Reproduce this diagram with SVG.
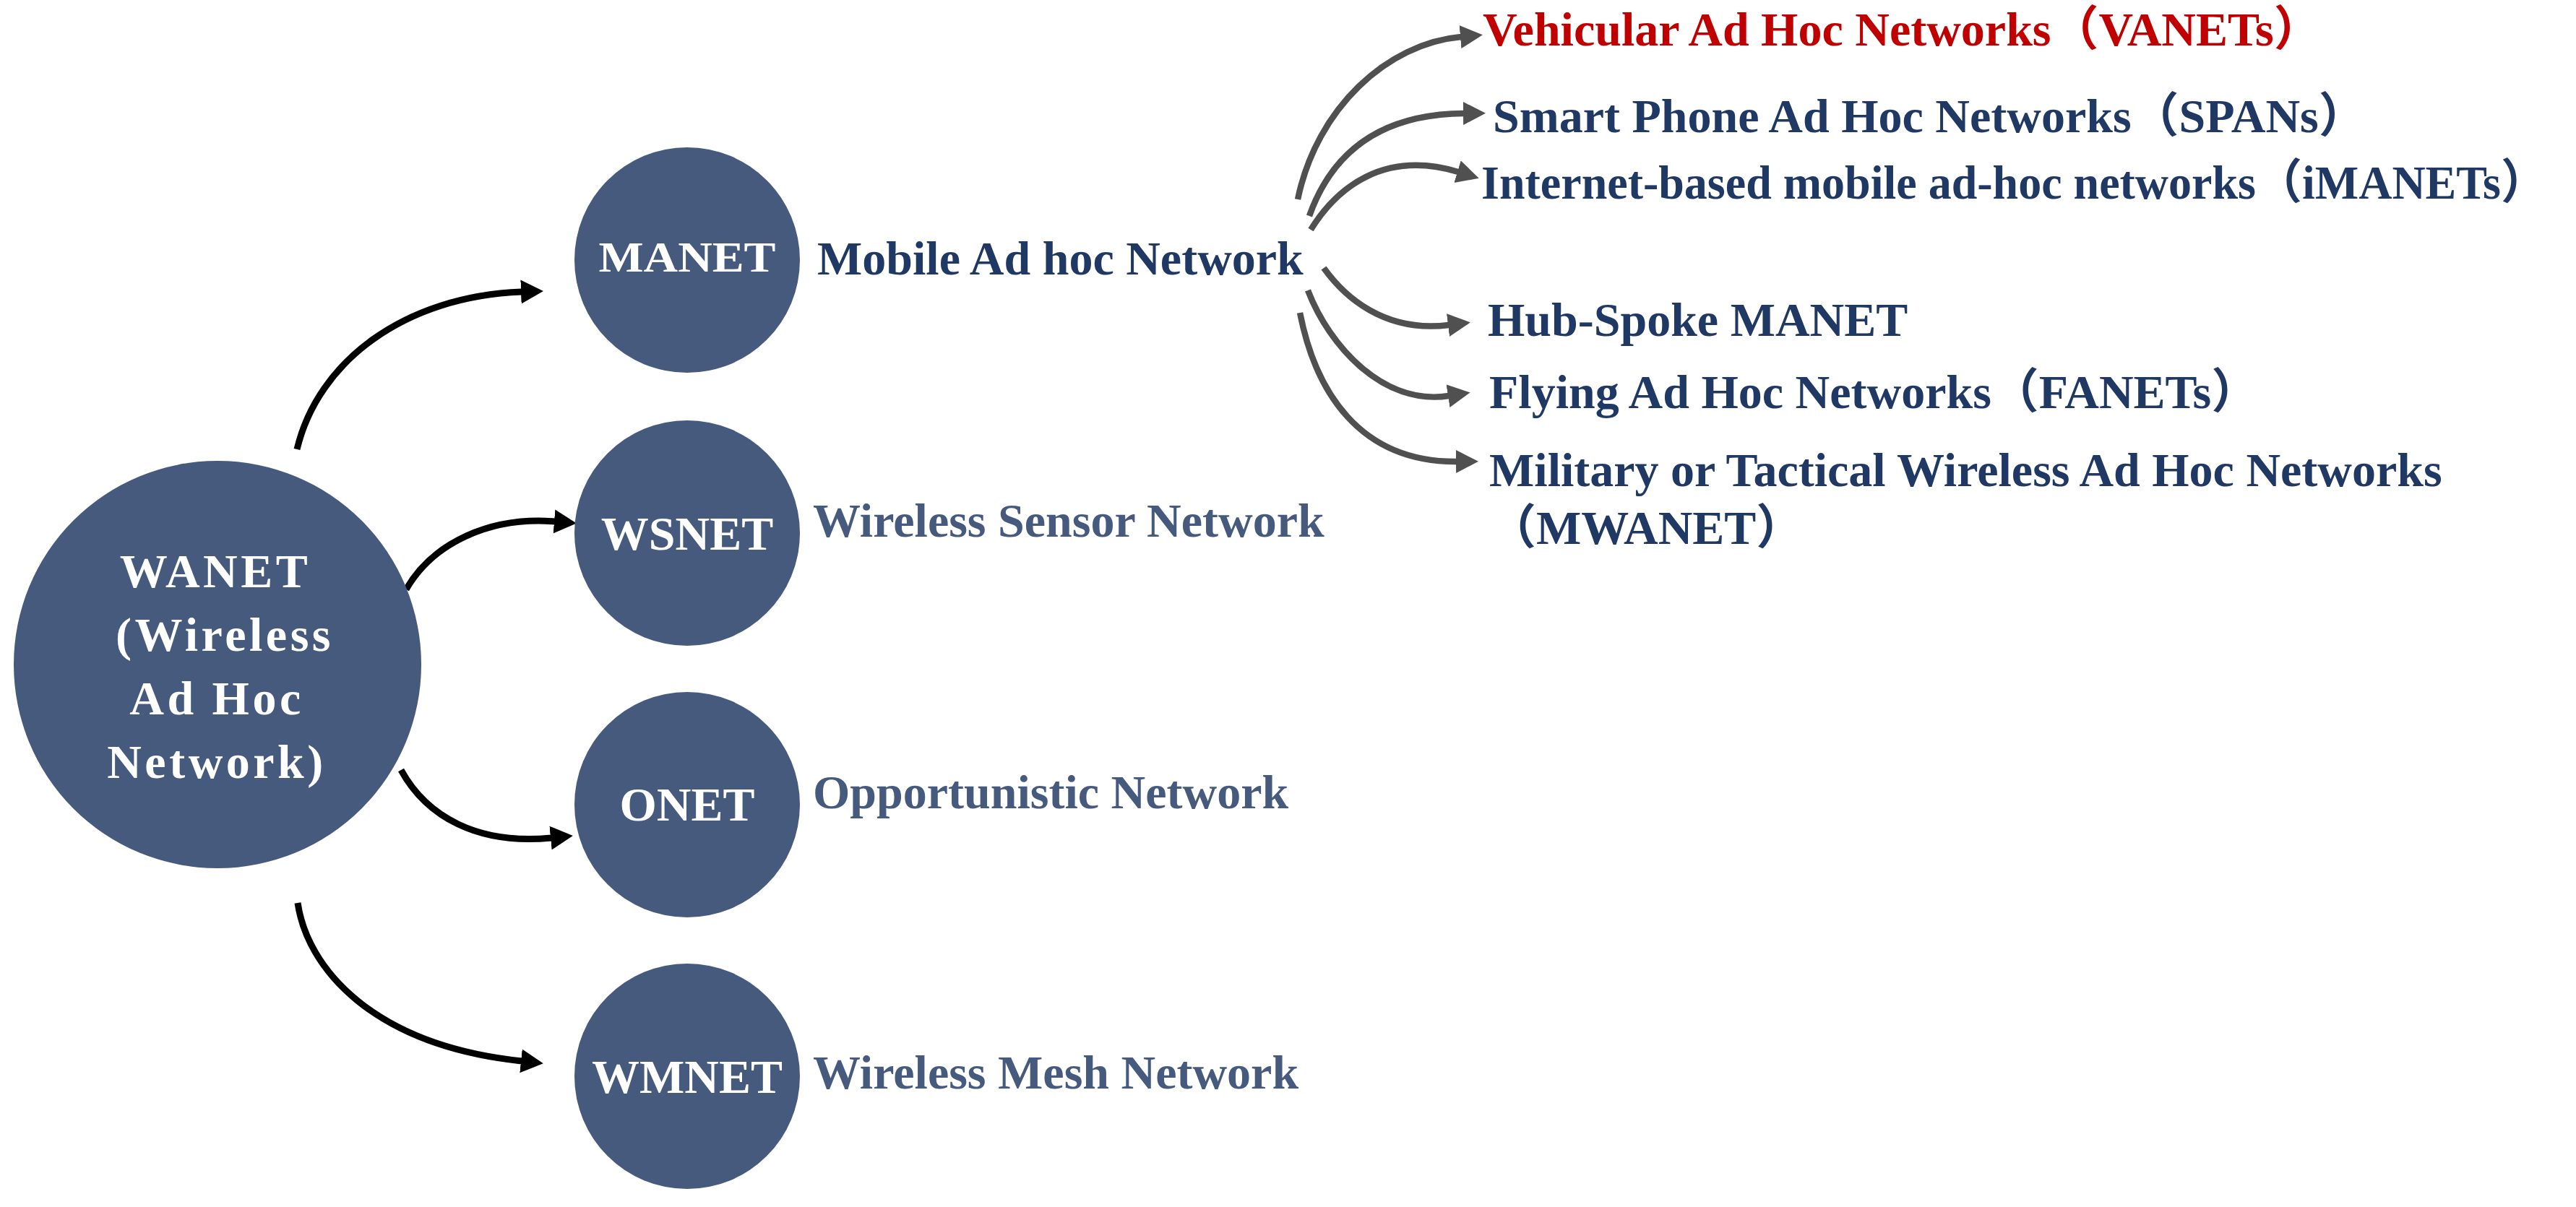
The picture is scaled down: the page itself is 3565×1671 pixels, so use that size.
<svg xmlns="http://www.w3.org/2000/svg" width="3565" height="1671" viewBox="0 0 3565 1671">
<style>
  text { font-family: "Liberation Serif", "Times New Roman", "Noto Sans CJK SC", serif; font-weight: bold; }
  .node circle { fill: #465A7E; }
  .nt { fill: #FFFFFF; font-size: 66px; text-anchor: middle; }
  .wt { fill: #FFFFFF; font-size: 66px; text-anchor: middle; letter-spacing: 4.5px; }
  .lbl-dark { fill: #1F3864; font-size: 66px; }
  .lbl-slate { fill: #465A7E; font-size: 66px; }
  .lbl-red { fill: #C00000; font-size: 66px; }
  .cb { fill: none; stroke: #000000; stroke-width: 9; marker-end: url(#headBlack); }
  .cg { fill: none; stroke: #505050; stroke-width: 8.5; marker-end: url(#headGray); }
</style>
<defs>
  <marker id="headBlack" markerUnits="userSpaceOnUse" viewBox="0 0 34 36" markerWidth="34" markerHeight="36" refX="1" refY="18" orient="auto">
    <path d="M0,1.5 L31,18 L0,34.5 Z" fill="#000000"/>
  </marker>
  <marker id="headGray" markerUnits="userSpaceOnUse" viewBox="0 0 34 34" markerWidth="34" markerHeight="34" refX="1" refY="16" orient="auto">
    <path d="M0,0 L31,16 L0,32 Z" fill="#505050"/>
  </marker>
</defs>

<g id="connectors">
  <path class="cb" d="M411,622 C440,500 560,410 722,404"/>
  <path class="cb" d="M562,816 C600,750 680,715 768,722"/>
  <path class="cb" d="M555,1066 C590,1130 660,1170 763,1160"/>
  <path class="cb" d="M412,1250 C425,1340 515,1447 722,1469"/>
  <path class="cg" d="M1796,276 C1822,150 1920,60 2022,51"/>
  <path class="cg" d="M1812,299 C1840,220 1900,158 2026,157"/>
  <path class="cg" d="M1814,318 C1850,260 1915,207 2018,238"/>
  <path class="cg" d="M1832,371 C1860,410 1915,461 2005,450"/>
  <path class="cg" d="M1810,402 C1840,480 1915,562 2005,548"/>
  <path class="cg" d="M1799,433 C1820,540 1880,640 2016,639"/>
</g>

<g id="node-wanet" class="node">
  <circle cx="301" cy="920" r="282"/>
  <text class="wt" x="298" y="813">WANET</text>
  <text class="wt" x="311" y="901">(Wireless</text>
  <text class="wt" x="300" y="989">Ad Hoc</text>
  <text class="wt" x="300" y="1077">Network)</text>
</g>

<g id="node-manet" class="node">
  <circle cx="951" cy="360" r="156"/>
  <text class="nt" x="951" y="376" style="font-size:60px" textLength="245" lengthAdjust="spacingAndGlyphs">MANET</text>
  <text class="lbl-dark" x="1131" y="380">Mobile Ad hoc Network</text>
</g>

<g id="node-wsnet" class="node">
  <circle cx="951" cy="738" r="156"/>
  <text class="nt" x="951" y="761">WSNET</text>
  <text class="lbl-slate" x="1125" y="743">Wireless Sensor Network</text>
</g>

<g id="node-onet" class="node">
  <circle cx="951" cy="1114" r="156"/>
  <text class="nt" x="951" y="1136">ONET</text>
  <text class="lbl-slate" x="1125" y="1119">Opportunistic Network</text>
</g>

<g id="node-wmnet" class="node">
  <circle cx="951" cy="1490" r="156"/>
  <text class="nt" x="951" y="1513">WMNET</text>
  <text class="lbl-slate" x="1125" y="1507">Wireless Mesh Network</text>
</g>

<g id="node-vanets">
  <text class="lbl-red" x="2052" y="63">Vehicular Ad Hoc Networks（VANETs）</text>
</g>
<g id="node-spans">
  <text class="lbl-dark" x="2066" y="183">Smart Phone Ad Hoc Networks（SPANs）</text>
</g>
<g id="node-imanets">
  <text class="lbl-dark" x="2050" y="275" textLength="1475" lengthAdjust="spacingAndGlyphs">Internet-based mobile ad-hoc networks（iMANETs）</text>
</g>
<g id="node-hubspoke">
  <text class="lbl-dark" x="2059" y="465">Hub-Spoke MANET</text>
</g>
<g id="node-fanets">
  <text class="lbl-dark" x="2061" y="565">Flying Ad Hoc Networks（FANETs）</text>
</g>
<g id="node-mwanet">
  <text class="lbl-dark" x="2061" y="673">Military or Tactical Wireless Ad Hoc Networks</text>
  <text class="lbl-dark" x="2060" y="753">（MWANET）</text>
</g>
</svg>
